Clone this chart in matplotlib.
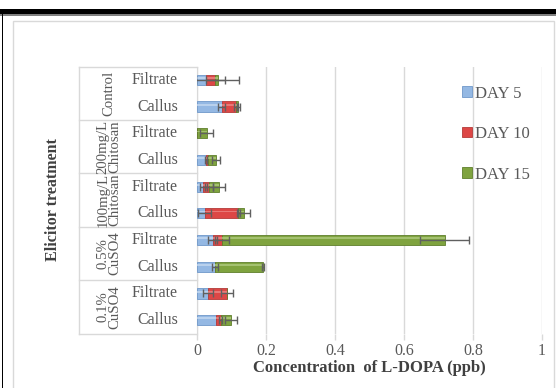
import matplotlib.pyplot as plt
from matplotlib.patches import Rectangle
import numpy as np

# L-DOPA concentration (ppb) per elicitor treatment, stacked by harvest day
samples = ["Filtrate", "Callus"] * 5
groups = ["Control", "200mg/L\nChitosan", "100mg/L\nChitosan", "0.5%\nCuSO4", "0.1%\nCuSO4"]
series = ["DAY 5", "DAY 10", "DAY 15"]

day5 = [0.025, 0.072, 0.000, 0.027, 0.018, 0.022, 0.045, 0.052, 0.031, 0.055]
day10 = [0.028, 0.041, 0.000, 0.004, 0.016, 0.098, 0.027, 0.000, 0.056, 0.014]
day15 = [0.007, 0.007, 0.028, 0.024, 0.029, 0.017, 0.646, 0.138, 0.000, 0.029]

err5 = [0.000, 0.010, 0.000, 0.003, 0.010, 0.018, 0.012, 0.008, 0.015, 0.000]
err10 = [0.028, 0.005, 0.000, 0.000, 0.012, 0.005, 0.021, 0.000, 0.016, 0.004]
err15 = [0.063, 0.004, 0.018, 0.012, 0.017, 0.018, 0.071, 0.003, 0.000, 0.018]

colors = ["#94b8e3", "#dd4746", "#7fa33f"]
edges = ["#6f97c9", "#b43a38", "#5f7f2c"]
highlights = ["#c9dcf2", "#ee8f8d", "#b5cf86"]

text_gray = "#595959"
grid_gray = "#d9d9d9"
serif = ["Liberation Serif", "DejaVu Serif"]
plt.rcParams["font.family"] = serif

W, H = 556, 388
fig = plt.figure(figsize=(W / 100, H / 100), dpi=100)


def px_x(x):
    return x / W


def px_y(y):
    return 1 - y / H


# outer frame: heavy black rule on top, thin black rule on the left
fig.patches.append(Rectangle((0, px_y(14)), 1, 5 / H, transform=fig.transFigure,
                             facecolor="black", edgecolor="none"))
fig.patches.append(Rectangle((0, px_y(15.5)), 1, 1.5 / H, transform=fig.transFigure,
                             facecolor="#808080", edgecolor="none"))
fig.patches.append(Rectangle((px_x(1.5), 0), 1.5 / W, px_y(14), transform=fig.transFigure,
                             facecolor="black", edgecolor="none"))
# chart area border
fig.patches.append(Rectangle((px_x(12.5), -0.05), px_x(553.5) - px_x(12.5), px_y(21) + 0.05,
                             transform=fig.transFigure, facecolor="none",
                             edgecolor=grid_gray, linewidth=1))

left, right, top, bottom = 197, 542, 66.5, 333.5
ax = fig.add_axes([px_x(left), px_y(bottom), px_x(right) - px_x(left),
                   px_y(top) - px_y(bottom)])

y = np.arange(len(samples))
h = 0.38
starts = [np.zeros(len(y)), np.array(day5), np.array(day5) + np.array(day10)]
vals = [np.array(day5), np.array(day10), np.array(day15)]
errs = [err5, err10, err15]

for s, v, c, e, hl, lab in zip(starts, vals, colors, edges, highlights, series):
    ax.barh(y, v, left=s, height=h, color=c, edgecolor=e, linewidth=0.6,
            label=lab, zorder=3)
    # soft sheen across the upper part of each bar
    ax.barh(y - h * 0.18, v, left=s, height=h * 0.18, color=hl,
            edgecolor="none", alpha=0.7, zorder=3.5)

for s, v, er in zip(starts, vals, errs):
    er = np.array(er)
    mask = er > 0
    ax.errorbar((s + v)[mask], y[mask], xerr=er[mask], fmt="none",
                ecolor="#606060", elinewidth=1.0, capsize=3, capthick=1.0, zorder=4)

ax.set_xlim(0, 1)
ax.set_ylim(len(y) - 0.5, -0.5)
ax.set_xticks(np.arange(0, 1.01, 0.2))
ax.set_xticklabels(["0", "0.2", "0.4", "0.6", "0.8", "1"])
ax.tick_params(axis="x", colors=grid_gray, labelcolor=text_gray, labelsize=11.5,
               length=4, width=1, pad=2.5)
ax.set_yticks([])
ax.grid(axis="x", color=grid_gray, linewidth=1, zorder=0)
ax.set_axisbelow(True)
for side in ["top", "right", "bottom"]:
    ax.spines[side].set_visible(False)
ax.spines["left"].set_color(grid_gray)

ax.set_xlabel("Concentration  of L-DOPA (ppb)", fontsize=12, fontweight="bold",
              color="#404040", labelpad=1)

# two-level category axis: sample type, then treatment group
ytr = ax.get_yaxis_transform()
label_left = (79 - left) / (right - left)
for yi, name in zip(y, samples):
    ax.text((178 - left) / (right - left), yi, name, transform=ytr, ha="right",
            va="center", fontsize=11.5, color=text_gray)
for gi, name in enumerate(groups):
    ax.text((109 - left) / (right - left), 2 * gi + 0.5, name, transform=ytr,
            rotation=90, ha="center", va="center", fontsize=10.6, color=text_gray,
            linespacing=0.85)
for b in np.arange(-0.5, len(y), 2):
    ax.plot([label_left, 0], [b, b], transform=ytr, color=grid_gray, linewidth=1,
            clip_on=False)
ax.plot([label_left, label_left], [-0.5, len(y) - 0.5], transform=ytr,
        color=grid_gray, linewidth=1, clip_on=False)
ax.text((53 - left) / (right - left), 4.5, "Elicitor treatment", transform=ytr,
        rotation=90, ha="center", va="center", fontsize=11.5, fontweight="bold",
        color="#404040")

handles, labels = ax.get_legend_handles_labels()
ax.legend(handles, labels, loc="upper left", bbox_to_anchor=((447 - left) / (right - left), 0.985),
          frameon=False, fontsize=12, labelcolor=text_gray, handlelength=0.6,
          handleheight=0.6, handletextpad=0.2, labelspacing=1.47)

fig.savefig("out.png", dpi=100)
